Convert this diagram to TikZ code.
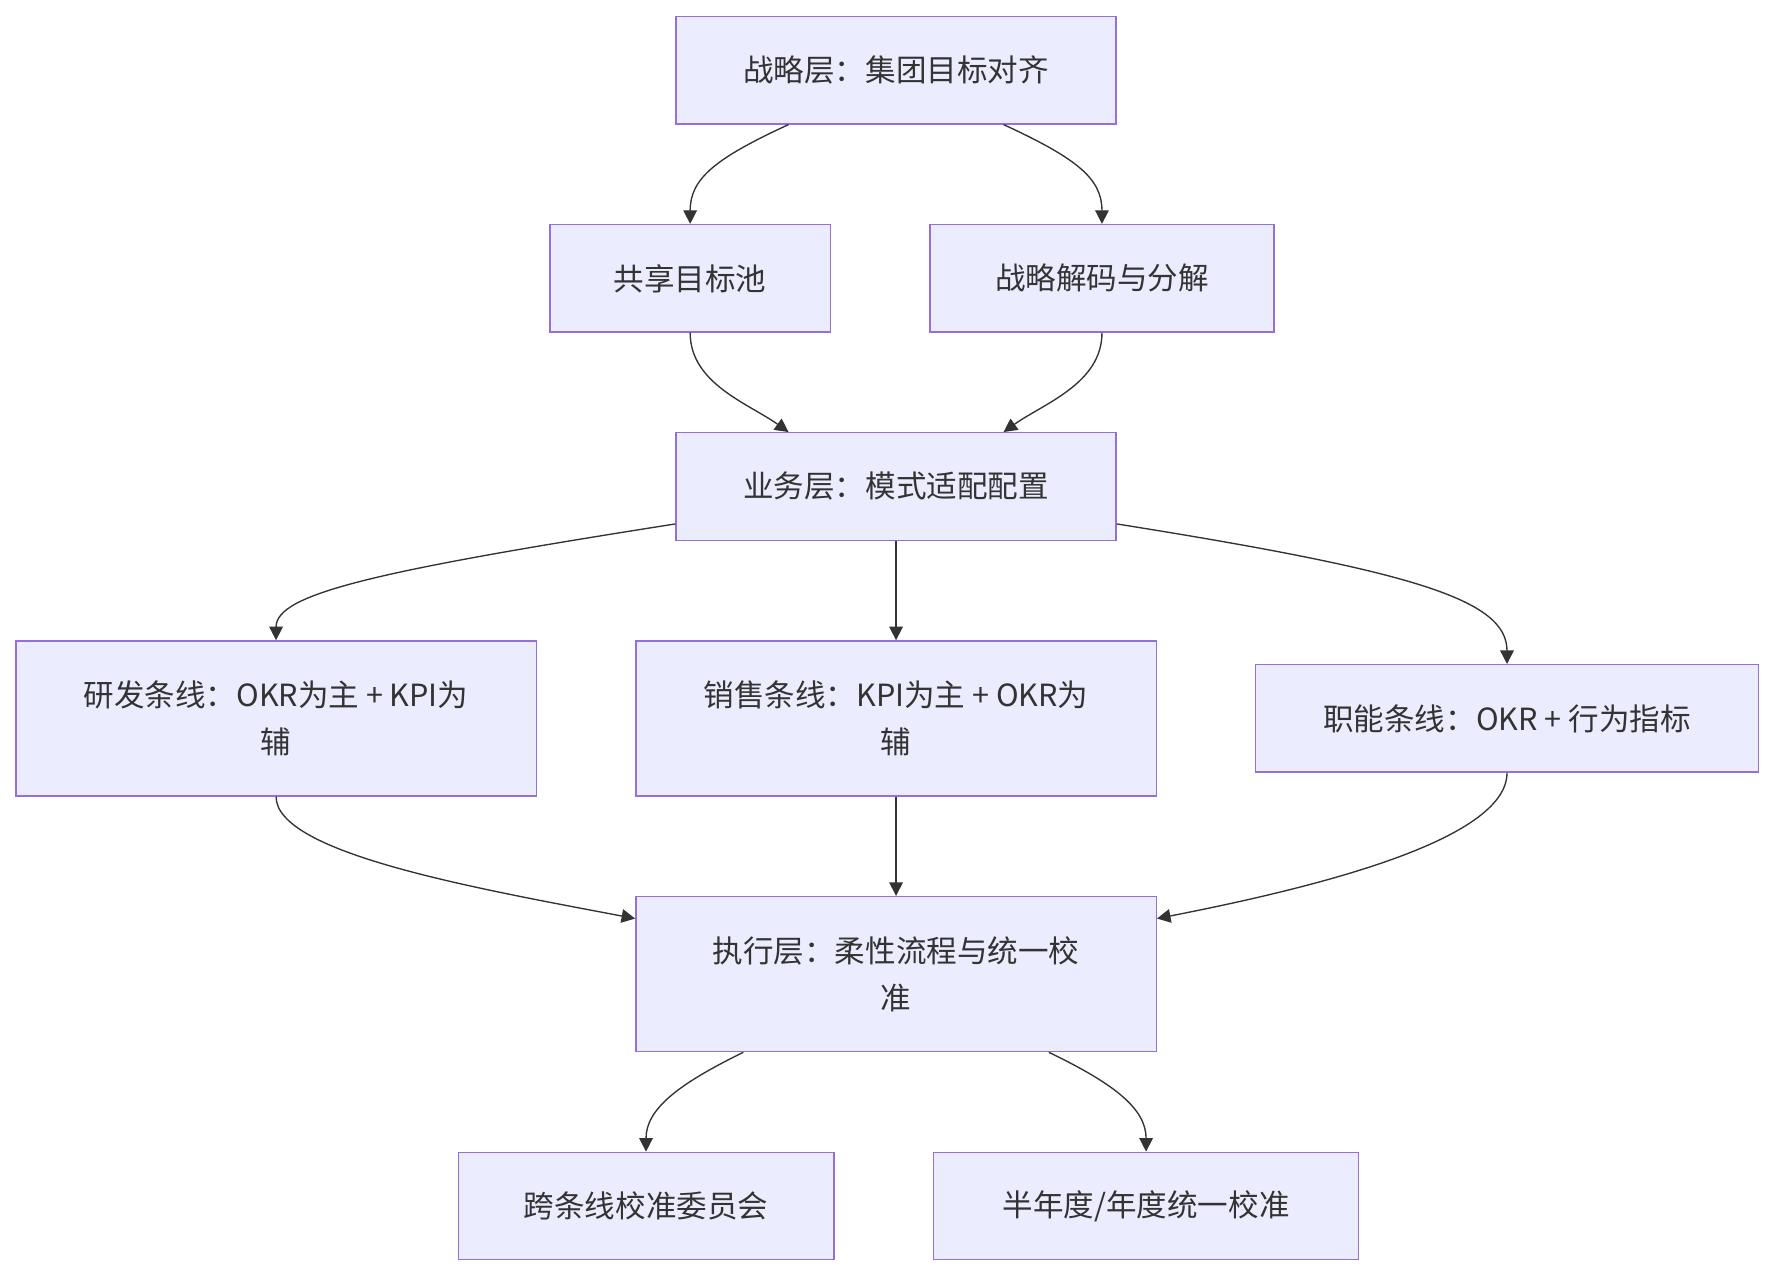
\documentclass[tikz,border=0pt]{standalone}
\usepackage{fontspec}
\setmainfont{Noto Sans CJK SC}
\usetikzlibrary{arrows.meta,calc}
\definecolor{boxfill}{HTML}{ECECFF}
\definecolor{boxline}{HTML}{9370DB}
\definecolor{edge}{HTML}{333333}
\tikzset{every picture/.style={line width=0.6pt}}
\tikzset{box/.style={draw=boxline,fill=boxfill,inner sep=0pt,align=center,font=\fontsize{13.5}{21}\selectfont,text=edge},
  link/.style={draw=edge,-{Triangle[length=6pt,width=6pt]}}}

\begin{document}
\begin{tikzpicture}[x=0.5pt,y=0.5pt,yscale=-1, xscale=1]
\useasboundingbox (0,0) rectangle (1568,1128);

% Nodes
\node[box,minimum width=194.5pt,minimum height=47.5pt] (strat) at (792,62) {战略层：集团目标对齐};
\node[box,minimum width=124pt,minimum height=47.5pt] (pool) at (610,246) {共享目标池};
\node[box,minimum width=152pt,minimum height=47.5pt] (decode) at (974,246) {战略解码与分解};
\node[box,minimum width=194.5pt,minimum height=47.5pt] (biz) at (792,430) {业务层：模式适配配置};
\node[box,minimum width=230pt,minimum height=68.5pt] (rd) at (244,635) {研发条线：OKR为主 + KPI为\\辅};
\node[box,minimum width=230pt,minimum height=68.5pt] (sales) at (792,635) {销售条线：KPI为主 + OKR为\\辅};
\node[box,minimum width=222.5pt,minimum height=47.5pt] (func) at (1332,635) {职能条线：OKR + 行为指标};
\node[box,minimum width=230pt,minimum height=68.5pt] (exec) at (792,861) {执行层：柔性流程与统一校\\准};
\node[box,minimum width=166pt,minimum height=47.5pt] (cmte) at (571,1066) {跨条线校准委员会};
\node[box,minimum width=188pt,minimum height=47.5pt] (semi) at (1013,1066) {半年度/年度统一校准};

% Connectors
\draw[link] ($(strat.south)+(-95,0)$) .. controls ($(strat.south)+(-160,30)$) and ($(pool.north)+(0,-40)$) .. (pool.north);
\draw[link] ($(strat.south)+(95,0)$) .. controls ($(strat.south)+(160,30)$) and ($(decode.north)+(0,-40)$) .. (decode.north);
\draw[link] (pool.south) .. controls ($(pool.south)+(0,45)$) and ($(biz.north)+(-130,-25)$) .. ($(biz.north)+(-95,0)$);
\draw[link] (decode.south) .. controls ($(decode.south)+(0,45)$) and ($(biz.north)+(130,-25)$) .. ($(biz.north)+(95,0)$);
\draw[link] ($(biz.south west)+(0,-15)$) .. controls (330,505) and (244,525) .. (rd.north);
\draw[link] (biz.south) -- (sales.north);
\draw[link] ($(biz.south east)+(0,-15)$) .. controls (1250,505) and (1332,530) .. (func.north);
\draw[link] (rd.south) .. controls ($(rd.south)+(0,50)$) and (420,785) .. ($(exec.north west)+(0,20)$);
\draw[link] (sales.south) -- (exec.north);
\draw[link] (func.south) .. controls ($(func.south)+(0,60)$) and (1160,785) .. ($(exec.north east)+(0,20)$);
\draw[link] ($(exec.south)+(-135,0)$) .. controls (600,958) and (571,980) .. (cmte.north);
\draw[link] ($(exec.south)+(135,0)$) .. controls (985,958) and (1013,980) .. (semi.north);
\end{tikzpicture}
\end{document}
